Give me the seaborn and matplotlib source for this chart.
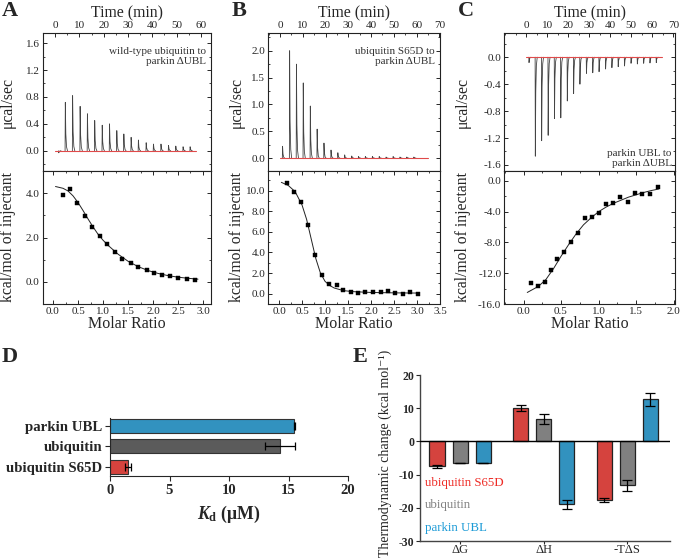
import matplotlib
matplotlib.use("Agg")
import matplotlib.pyplot as plt
from matplotlib.ticker import MultipleLocator, FormatStrFormatter
import seaborn as sns
import numpy as np
import pandas as pd

# ---- ITC data ----
# A: wild-type ubiquitin -> parkin dUBL
a_inj_t = [1.4, 4.1, 7.1, 10.2, 13.2, 16.2, 19.3, 22.3, 25.3, 28.2, 31.2,
           34.2, 37.4, 40.4, 43.5, 46.6, 49.6, 52.6, 55.5]
a_inj_h = [-0.03, 0.72, 0.82, 0.66, 0.55, 0.45, 0.38, 0.40, 0.30, 0.25, 0.20,
           0.16, 0.12, 0.10, 0.10, 0.08, 0.07, 0.06, 0.06]
a_ratio = [0.19, 0.33, 0.48, 0.63, 0.78, 0.93, 1.08, 1.23, 1.39, 1.55, 1.70,
           1.87, 2.02, 2.18, 2.34, 2.51, 2.68, 2.85]
a_heat = [3.90, 4.19, 3.55, 2.97, 2.47, 2.08, 1.72, 1.33, 1.05, 0.84, 0.67,
          0.54, 0.42, 0.33, 0.25, 0.18, 0.15, 0.09]
a_fit_x = [0.05, 0.2, 0.3, 0.4, 0.5, 0.6, 0.7, 0.8, 0.9, 1.0, 1.1, 1.3, 1.5,
           1.7, 1.9, 2.1, 2.3, 2.5, 2.7, 2.9]
a_fit_y = [4.30, 4.22, 4.10, 3.88, 3.58, 3.22, 2.84, 2.48, 2.15, 1.88, 1.65,
           1.25, 0.93, 0.69, 0.51, 0.38, 0.28, 0.21, 0.16, 0.12]

# B: ubiquitin S65D -> parkin dUBL
b_inj_t = [1.0, 4.1, 7.1, 10.1, 13.2, 16.2, 19.2, 22.3, 25.3, 28.3, 31.4,
           34.4, 37.4, 40.5, 43.5, 46.5, 49.6, 52.6, 55.6, 58.7]
b_inj_h = [0.22, 2.00, 1.75, 1.40, 0.97, 0.54, 0.28, 0.15, 0.10, 0.06, 0.04,
           0.03, 0.03, 0.03, 0.03, 0.02, 0.03, 0.02, 0.02, 0.02]
b_ratio = [0.17, 0.33, 0.47, 0.62, 0.78, 0.93, 1.09, 1.25, 1.40, 1.56, 1.72,
           1.88, 2.05, 2.21, 2.37, 2.53, 2.69, 2.85, 3.03]
b_heat = [10.7, 9.9, 8.85, 6.7, 3.8, 1.85, 0.95, 0.8, 0.4, 0.2, 0.1, 0.15,
          0.2, 0.2, 0.3, 0.05, 0.0, 0.15, -0.05]
b_fit_x = [0.05, 0.2, 0.35, 0.5, 0.6, 0.7, 0.8, 0.9, 1.0, 1.1, 1.2, 1.4, 1.6,
           2.0, 2.5, 3.05]
b_fit_y = [10.8, 10.5, 9.9, 8.6, 7.2, 5.3, 3.4, 2.0, 1.2, 0.8, 0.55, 0.3,
           0.2, 0.12, 0.08, 0.06]

# C: parkin UBL -> parkin dUBL
c_inj_t = [1.3, 4.3, 7.3, 10.4, 13.4, 16.4, 19.5, 22.5, 25.5, 28.6, 31.6,
           34.6, 37.7, 40.7, 43.7, 46.7, 49.8, 52.8, 55.8, 58.8, 61.8]
c_inj_h = [-0.08, -1.47, -1.24, -1.16, -0.91, -0.90, -0.65, -0.54, -0.40,
           -0.24, -0.23, -0.215, -0.175, -0.155, -0.14, -0.13, -0.09, -0.10,
           -0.09, -0.085, -0.08]
c_ratio = [0.10, 0.19, 0.28, 0.36, 0.45, 0.54, 0.63, 0.72, 0.82, 0.91, 1.00,
           1.10, 1.19, 1.29, 1.39, 1.48, 1.58, 1.68, 1.79]
c_heat = [-13.3, -13.6, -13.2, -11.6, -10.1, -9.3, -8.0, -6.8, -4.8, -4.7,
          -4.1, -3.0, -2.85, -2.1, -2.75, -1.5, -1.7, -1.65, -0.8]
c_fit_x = [0.05, 0.2, 0.3, 0.4, 0.5, 0.6, 0.7, 0.8, 0.9, 1.0, 1.1, 1.2, 1.3,
           1.4, 1.5, 1.6, 1.7, 1.8]
c_fit_y = [-14.5, -13.7, -12.8, -11.4, -9.8, -8.3, -6.9, -5.7, -4.8, -4.0,
           -3.4, -2.9, -2.5, -2.1, -1.8, -1.5, -1.25, -1.05]

# ---- D: Kd ----
kd_names = ["parkin UBL", "ubiquitin", "ubiquitin S65D"]
kd_vals = [15.5, 14.3, 1.5]
kd_err = [0.05, 1.25, 0.23]

# ---- E: thermodynamics ----
terms = ["ΔG", "ΔH", "-TΔS"]
ligands = ["ubiquitin S65D", "ubiquitin", "parkin UBL"]
thermo_vals = {
    "ubiquitin S65D": [-7.5, 10.1, -17.7],
    "ubiquitin": [-6.5, 6.7, -13.2],
    "parkin UBL": [-6.5, -19.0, 12.7],
}
thermo_err = {
    "ubiquitin S65D": [0.5, 1.0, 0.7],
    "ubiquitin": [0.1, 1.5, 1.6],
    "parkin UBL": [0.1, 1.5, 2.0],
}

col_red = "#ee2b25"
col_blue = "#1b9ad6"
col_gray_d = "#5b5b5b"
col_gray_e = "#808080"

sns.set_theme(style="ticks")
plt.rcParams["font.family"] = ["Liberation Serif", "DejaVu Serif"]
plt.rcParams["axes.unicode_minus"] = False
plt.rcParams["mathtext.fontset"] = "custom"
plt.rcParams["mathtext.rm"] = "Liberation Serif:bold"
plt.rcParams["mathtext.it"] = "Liberation Serif:italic:bold"
plt.rcParams["mathtext.bf"] = "Liberation Serif:bold"

fig = plt.figure(figsize=(6.83, 5.59), dpi=100)

# spike template for the raw thermograms
SPIKE_DT = [0, 0.1, 0.3, 0.6, 1.0]
SPIKE_FRAC = [0, 1, 0.35, 0.08, 0]


def spikes(times, heights):
    # one spike per injection, separated by NaN so the baseline stays red
    xs, ys = [], []
    for t, h in zip(times, heights):
        xs += [t + d for d in SPIKE_DT] + [np.nan]
        ys += [h * f for f in SPIKE_FRAC] + [np.nan]
    return xs, ys


panels = [
    dict(left=42.5, right=211, tlim=(-5.2, 64.2), tmax=60, rlim=(-0.21, 3.16),
         ulim=(-0.3, 1.75), umaj=0.4, umin=0.2, llim=(-1.0, 5.0), lmaj=2.0, lmin=1.0,
         inj_t=a_inj_t, inj_h=a_inj_h, t_end=58, ratio=a_ratio, heat=a_heat,
         fx=a_fit_x, fy=a_fit_y, note="wild-type ubiquitin to\nparkin ΔUBL",
         note_top=True, ylx=-0.16, letter="A", lx=2),
    dict(left=268, right=440, tlim=(-5.3, 70.3), tmax=70, rlim=(-0.24, 3.5),
         ulim=(-0.24, 2.33), umaj=0.5, umin=0.25, llim=(-1.0, 11.9), lmaj=2.0, lmin=1.0,
         inj_t=b_inj_t, inj_h=b_inj_h, t_end=65, ratio=b_ratio, heat=b_heat,
         fx=b_fit_x, fy=b_fit_y, note="ubiquitin S65D to\nparkin ΔUBL",
         note_top=True, ylx=-0.135, letter="B", lx=232),
    dict(left=504, right=675, tlim=(-10.5, 70.8), tmax=70, rlim=(-0.26, 2.02),
         ulim=(-1.69, 0.36), umaj=0.4, umin=0.2, llim=(-16.0, 1.3), lmaj=4.0, lmin=2.0,
         inj_t=c_inj_t, inj_h=c_inj_h, t_end=64.6, ratio=c_ratio, heat=c_heat,
         fx=c_fit_x, fy=c_fit_y, note="parkin UBL to\nparkin ΔUBL",
         note_top=False, ylx=-0.195, letter="C", lx=458),
]

W, H = 683.0, 559.0
for p in panels:
    l = p["left"] / W
    w = (p["right"] - p["left"]) / W
    ax_u = fig.add_axes([l, 1 - 171 / H, w, (171 - 33) / H])
    ax_l = fig.add_axes([l, 1 - 304 / H, w, (304 - 171) / H])

    # raw heat trace
    tx, ty = spikes(p["inj_t"], p["inj_h"])
    ax_u.plot(tx, ty, color="#444444", lw=0.6, zorder=2)
    ax_u.plot([0, p["t_end"]], [0, 0], color="#e04a4a", lw=0.8, zorder=3)
    ax_u.set_xlim(*p["tlim"])
    ax_u.set_ylim(*p["ulim"])
    ax_u.set_xticks(range(0, p["tmax"] + 1, 10))
    ax_u.xaxis.set_minor_locator(MultipleLocator(5))
    ax_u.yaxis.set_major_locator(MultipleLocator(p["umaj"]))
    ax_u.yaxis.set_minor_locator(MultipleLocator(p["umin"]))
    ax_u.yaxis.set_major_formatter(FormatStrFormatter("%.1f"))
    ax_u.tick_params(axis="both", which="both", direction="in", top=True,
                     bottom=False, left=True, right=True, labeltop=True,
                     labelbottom=False, labelsize=8, pad=2)
    ax_u.tick_params(which="major", length=3, width=0.7)
    ax_u.tick_params(which="minor", length=1.5, width=0.6)
    ax_u.xaxis.set_label_position("top")
    ax_u.set_xlabel("Time (min)", fontsize=11.3, labelpad=3)
    ax_u.set_ylabel("μcal/sec", fontsize=11.3)
    ax_u.yaxis.set_label_coords(p["ylx"], 0.5)
    if p["note_top"]:
        ax_u.text(0.97, 0.90, p["note"], transform=ax_u.transAxes, ha="right",
                  va="top", fontsize=8, color="#333333", linespacing=1.2)
    else:
        ax_u.text(0.98, 0.02, p["note"], transform=ax_u.transAxes, ha="right",
                  va="bottom", fontsize=8, color="#333333", linespacing=1.2)

    # integrated heats + fit
    sns.lineplot(x=p["fx"], y=p["fy"], ax=ax_l, color="#222222", lw=0.7,
                 sort=False, estimator=None)
    sns.scatterplot(x=p["ratio"], y=p["heat"], ax=ax_l, marker="s", s=11,
                    color="black", edgecolor="black", linewidth=0.3, zorder=3)
    ax_l.set_xlim(*p["rlim"])
    ax_l.set_ylim(*p["llim"])
    ax_l.xaxis.set_major_locator(MultipleLocator(0.5))
    ax_l.xaxis.set_minor_locator(MultipleLocator(0.25))
    ax_l.yaxis.set_major_locator(MultipleLocator(p["lmaj"]))
    ax_l.yaxis.set_minor_locator(MultipleLocator(p["lmin"]))
    ax_l.xaxis.set_major_formatter(FormatStrFormatter("%.1f"))
    ax_l.yaxis.set_major_formatter(FormatStrFormatter("%.1f"))
    ax_l.tick_params(axis="both", which="both", direction="in", top=True,
                     bottom=True, left=True, right=True, labelsize=8, pad=2)
    ax_l.tick_params(which="major", length=3, width=0.7)
    ax_l.tick_params(which="minor", length=1.5, width=0.6)
    ax_l.set_xlabel("Molar Ratio", fontsize=11.5, labelpad=0)
    ax_l.set_ylabel("kcal/mol of injectant", fontsize=11.3)
    ax_l.yaxis.set_label_coords(p["ylx"], 0.5)

    for a in (ax_u, ax_l):
        for s in a.spines.values():
            s.set_linewidth(0.8)
            s.set_color("#222222")

    fig.text(p["lx"] / W, 1 - 1 / H, p["letter"], fontsize=16,
             fontweight="bold", va="top", ha="left")

# ---- D ----
ax_d = fig.add_axes([110 / W, 1 - 476 / H, (348 - 110) / W, (476 - 418) / H])
df_kd = pd.DataFrame({"name": kd_names, "kd": kd_vals})
sns.barplot(data=df_kd, x="kd", y="name", order=kd_names, hue="name",
            palette=[col_blue, col_gray_d, col_red], orient="h", width=0.67,
            edgecolor="#333333", linewidth=0.8, errorbar=None, legend=False,
            ax=ax_d)
ax_d.errorbar(kd_vals, range(len(kd_names)), xerr=kd_err, fmt="none",
              ecolor="black", elinewidth=0.9, capsize=3, capthick=0.9)
ax_d.set_xlim(0, 20)
ax_d.set_ylim(2.45, -0.37)
ax_d.set_xticks([0, 5, 10, 15, 20])
ax_d.set_xlabel(r"$K_\mathrm{d}$ (μM)", fontsize=12.8, fontweight="bold",
                labelpad=5)
ax_d.set_ylabel("")
ax_d.tick_params(axis="y", labelsize=10.7, length=3.5, width=0.8, pad=2)
ax_d.tick_params(axis="x", labelsize=10.5, length=3.5, width=0.8, pad=2)
for lab in ax_d.get_xticklabels() + ax_d.get_yticklabels():
    lab.set_fontweight("bold")
sns.despine(ax=ax_d)
for s in ax_d.spines.values():
    s.set_linewidth(0.8)
fig.text(2 / W, 1 - 347 / H, "D", fontsize=16, fontweight="bold", va="top")

# ---- E ----
ax_e = fig.add_axes([420 / W, 1 - 541 / H, 250 / W, (541 - 375) / H])
df_e = pd.DataFrame([(t, lig, thermo_vals[lig][i])
                     for lig in ligands for i, t in enumerate(terms)],
                    columns=["term", "ligand", "value"])
sns.barplot(data=df_e, x="term", y="value", hue="ligand", order=terms,
            hue_order=ligands, palette=[col_red, col_gray_e, col_blue],
            width=0.83, gap=0.35, edgecolor="#222222", linewidth=0.9,
            errorbar=None, legend=False, ax=ax_e)
bars = ax_e.patches
k = 0
for lig in ligands:
    for i in range(len(terms)):
        b = bars[k]
        k += 1
        ax_e.errorbar(b.get_x() + b.get_width() / 2, thermo_vals[lig][i],
                      yerr=thermo_err[lig][i], fmt="none", ecolor="black",
                      elinewidth=0.9, capsize=3.5, capthick=0.9, zorder=4)
ax_e.axhline(0, color="black", lw=1.0, zorder=3)
ax_e.set_ylim(-30, 20)
ax_e.set_xlim(-0.48, 2.51)
ax_e.set_yticks([-30, -20, -10, 0, 10, 20])
ax_e.set_xlabel("")
ax_e.set_ylabel("Thermodynamic change (kcal mol⁻¹)", fontsize=10)
ax_e.yaxis.set_label_coords(-0.112, 0.53)
ax_e.tick_params(axis="y", labelsize=8.5, length=3, width=0.8, pad=1)
ax_e.tick_params(axis="x", labelsize=9, length=2, width=0.8, pad=0.5)
for lab in ax_e.get_yticklabels():
    lab.set_fontweight("bold")
sns.despine(ax=ax_e)
for s in ax_e.spines.values():
    s.set_linewidth(1.0)
    s.set_color("#444444")
for lig, c, yy in zip(ligands, [col_red, col_gray_e, col_blue],
                      [0.352, 0.216, 0.076]):
    ax_e.text(0.02, yy, lig, transform=ax_e.transAxes, color=c, fontsize=9.3,
              va="center", ha="left")
fig.text(353 / W, 1 - 347 / H, "E", fontsize=16, fontweight="bold", va="top")

fig.savefig("out.png", dpi=100)
